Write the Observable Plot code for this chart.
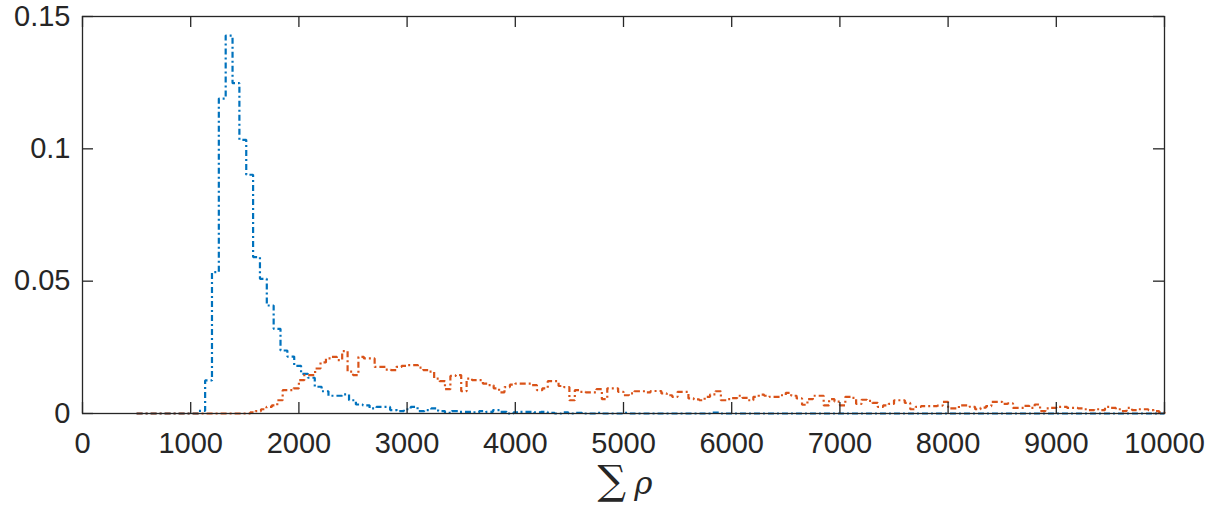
<!DOCTYPE html>
<html>
<head>
<meta charset="utf-8">
<script src="https://cdn.jsdelivr.net/npm/d3@7"></script>
<script src="https://cdn.jsdelivr.net/npm/@observablehq/plot@0.6"></script>
<style>
  html, body { margin: 0; padding: 0; background: #ffffff; }
  #chart { width: 1217px; height: 507px; }
</style>
</head>
<body>
<div id="chart"></div>
<script>
// ---- data ----
const xTicks = [0, 1000, 2000, 3000, 4000, 5000, 6000, 7000, 8000, 9000, 10000];
const yTicks = [0, 0.05, 0.1, 0.15];

// blue series: 150 bins from 500 to 10000
const blueStart = 500;
const blueEnd = 10000;
const blueValues = [
  0, 0, 0, 0, 0, 0, 0, 0, 0, 0.001,
  0.0125, 0.0534, 0.119, 0.1428, 0.1248, 0.1034, 0.0902, 0.0591, 0.0509, 0.0408,
  0.0320, 0.0238, 0.0215, 0.0180, 0.0150, 0.0135, 0.0101, 0.0084, 0.0067, 0.0067,
  0.0072, 0.0050, 0.0034, 0.0031, 0.0019, 0.0025, 0.0025, 0.0013, 0.0009, 0.0016,
  0.0025, 0.0009, 0.0013, 0.0019, 0.0009, 0.0002, 0.0009, 0.0006, 0.0006, 0.0004,
  0.0009, 0.0006, 0.0013, 0.0006, 0, 0.0004, 0.0006, 0.0006, 0.0004, 0.0006,
  0.0002, 0, 0.0004, 0, 0.0002, 0, 0, 0.0002, 0, 0,
  0, 0.0002, 0, 0, 0, 0, 0, 0, 0, 0,
  0, 0, 0, 0, 0.0003, 0, 0, 0, 0, 0,
  0, 0, 0, 0, 0, 0, 0, 0, 0, 0,
  0, 0, 0, 0, 0, 0, 0, 0, 0, 0,
  0, 0, 0, 0, 0, 0, 0, 0, 0, 0,
  0, 0, 0, 0, 0, 0, 0, 0, 0, 0,
  0, 0, 0, 0, 0, 0, 0, 0, 0, 0,
  0, 0, 0, 0, 0, 0, 0, 0, 0, 0
];

// orange series: 190 bins from 500 to 10000
const orangeStart = 500;
const orangeEnd = 10000;
const orangeValues = [
  0, 0, 0, 0, 0, 0, 0, 0, 0, 0,
  0, 0, 0, 0, 0, 0, 0, 0, 0, 0,
  0, 0.0004, 0.0009, 0.0016, 0.0025, 0.0031, 0.0050, 0.0088, 0.0088, 0.0095,
  0.0126, 0.0145, 0.0145, 0.0170, 0.0193, 0.0208, 0.0214, 0.0202, 0.0236, 0.0158,
  0.0145, 0.0214, 0.0208, 0.0208, 0.0176, 0.0176, 0.0166, 0.0164, 0.0176, 0.0180,
  0.0183, 0.0183, 0.0173, 0.0164, 0.0158, 0.0132, 0.0122, 0.0092, 0.0142, 0.0145,
  0.0084, 0.0132, 0.0126, 0.0126, 0.0113, 0.0107, 0.0095, 0.0080, 0.0100, 0.0109,
  0.0113, 0.0113, 0.0113, 0.0107, 0.0088, 0.0095, 0.0122, 0.0122, 0.0104, 0.0100,
  0.0050, 0.0088, 0.0082, 0.0080, 0.0080, 0.0092, 0.0054, 0.0095, 0.0095, 0.0082,
  0.0069, 0.0076, 0.0084, 0.0084, 0.0080, 0.0085, 0.0085, 0.0076, 0.0069, 0.0063,
  0.0082, 0.0082, 0.0057, 0.0053, 0.0050, 0.0063, 0.0072, 0.0084, 0.0050, 0.0054,
  0.0058, 0.0067, 0.0059, 0.0050, 0.0063, 0.0071, 0.0067, 0.0063, 0.0063, 0.0069,
  0.0078, 0.0067, 0.0057, 0.0033, 0.0054, 0.0067, 0.0067, 0.0031, 0.0054, 0.0045,
  0.0031, 0.0063, 0.0059, 0.0036, 0.0052, 0.0048, 0.0040, 0.0025, 0.0031, 0.0036,
  0.0050, 0.0050, 0.0040, 0.0016, 0.0025, 0.0028, 0.0028, 0.0028, 0.0030, 0.0044,
  0.0019, 0.0019, 0.0031, 0.0031, 0.0025, 0.0016, 0.0022, 0.0028, 0.0044, 0.0044,
  0.0036, 0.0038, 0.0021, 0.0021, 0.0029, 0.0021, 0.0034, 0.0009, 0.0019, 0.0021,
  0.0025, 0.0025, 0.0021, 0.0021, 0.0019, 0.0016, 0.0013, 0.0016, 0.0013, 0.0025,
  0.0021, 0.0016, 0.0009, 0.0021, 0.0013, 0.0016, 0.0016, 0.0013, 0.0009, 0.0004
];

// ---- build stair outlines (bin edges -> step points) ----
function stairs(values, start, end) {
  const w = (end - start) / values.length;
  const pts = values.map((v, i) => ({x: start + i * w, y: v}));
  pts.push({x: end, y: values[values.length - 1]});
  pts.push({x: end, y: 0});
  return pts;
}
const blueSteps = stairs(blueValues, blueStart, blueEnd);
const orangeSteps = stairs(orangeValues, orangeStart, orangeEnd);

const axisColor = "#262626";
const W = 1217, H = 507;
const mL = 82, mR = 53, mT = 16, mB = 94;
const innerW = W - mL - mR, innerH = H - mT - mB;
const tickLen = 11;
const dash = "6,3,2,3";

const svg = Plot.plot({
  width: W,
  height: H,
  marginLeft: mL,
  marginRight: mR,
  marginTop: mT,
  marginBottom: mB,
  style: {fontFamily: "'Liberation Sans', Arial, Helvetica, sans-serif", fontSize: "29px", color: axisColor, background: "#ffffff"},
  x: {domain: [0, 10000]},
  y: {domain: [0, 0.15]},
  marks: [
    Plot.line(blueSteps, {x: "x", y: "y", curve: "step-after", stroke: "#0072BD", strokeWidth: 2.2, strokeDasharray: dash, strokeLinecap: "butt", strokeLinejoin: "miter"}),
    Plot.line(orangeSteps, {x: "x", y: "y", curve: "step-after", stroke: "#D95319", strokeWidth: 2.2, strokeDasharray: dash, strokeLinecap: "butt", strokeLinejoin: "miter"}),
    Plot.frame({stroke: axisColor, strokeWidth: 1.3}),
    Plot.tickX(xTicks, {x: d => d, insetTop: innerH - tickLen, stroke: axisColor, strokeWidth: 1.3}),
    Plot.tickX(xTicks, {x: d => d, insetBottom: innerH - tickLen, stroke: axisColor, strokeWidth: 1.3}),
    Plot.tickY(yTicks, {y: d => d, insetRight: innerW - tickLen, stroke: axisColor, strokeWidth: 1.3}),
    Plot.tickY(yTicks, {y: d => d, insetLeft: innerW - tickLen, stroke: axisColor, strokeWidth: 1.3}),
    Plot.axisX({ticks: xTicks, tickSize: 0, tickPadding: 19, label: null, fontSize: 29, tickFormat: d => String(d)}),
    Plot.axisY({ticks: yTicks, tickSize: 0, tickPadding: 12, label: null, fontSize: 29, tickFormat: d => String(d)})
  ]
});

// x-axis label: ∑ ρ (LaTeX-like)
const lab = d3.select(svg).append("text")
  .attr("x", mL + innerW / 2 + 2)
  .attr("y", 494)
  .attr("text-anchor", "middle")
  .attr("fill", axisColor)
  .style("font-family", "'DejaVu Serif', 'Liberation Serif', serif");
lab.append("tspan").attr("font-size", 40).text("∑");
lab.append("tspan").attr("font-size", 31).attr("font-style", "italic").attr("dx", 8).text("ρ");

document.getElementById("chart").appendChild(svg);
</script>
</body>
</html>
